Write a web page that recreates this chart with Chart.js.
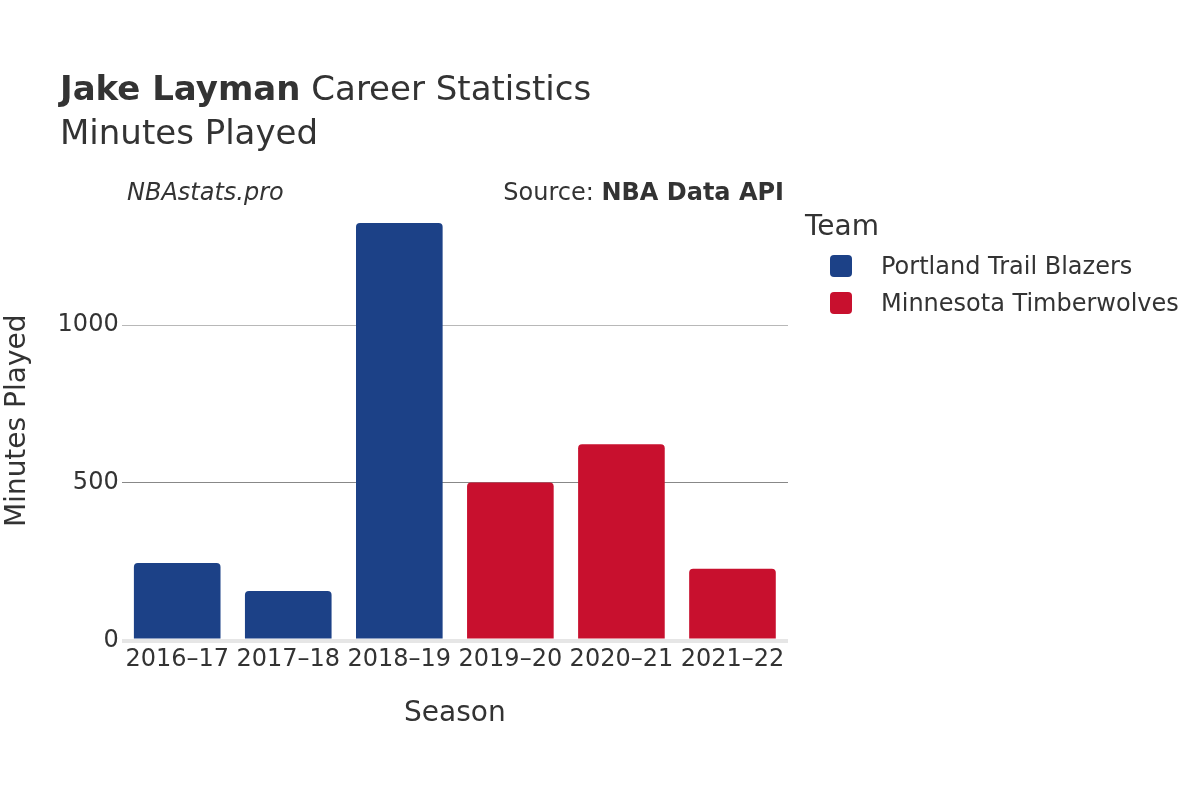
<!DOCTYPE html>
<html>
<head>
<meta charset="utf-8">
<script src="https://cdn.jsdelivr.net/npm/chart.js@4.4.0/dist/chart.umd.min.js"></script>
<style>
  html, body { margin: 0; padding: 0; background: #fff; }
  #wrap { position: relative; width: 1200px; height: 800px; font-family: "DejaVu Sans", sans-serif; color: #333; }
  #wrap canvas { position: absolute; left: 0; top: 0; }
  .txt { position: absolute; white-space: nowrap; }
  .sw { position: absolute; width: 22px; height: 22px; border-radius: 4px; }
</style>
</head>
<body>
<div id="wrap">
  <canvas id="chart" width="1200" height="800"></canvas>
  <div class="txt" style="left:60px; top:67px; font-size:34px; line-height:42px;"><b>Jake Layman</b> Career Statistics</div>
  <div class="txt" style="left:60px; top:111px; font-size:34px; line-height:42px;">Minutes Played</div>
  <div class="txt" style="left:127px; top:176px; font-size:24px; line-height:32px; font-style:italic;">NBAstats.pro</div>
  <div class="txt" style="right:416px; top:176px; font-size:24px; line-height:32px;">Source: <b>NBA Data API</b></div>
  <div class="txt" style="left:805px; top:208px; font-size:28px; line-height:36px;">Team</div>
  <div id="legend"></div>
</div>
<script>
// data
const seasons = ['2016\u201317', '2017\u201318', '2018\u201319', '2019\u201320', '2020\u201321', '2021\u201322'];
const teams = ['Portland Trail Blazers', 'Minnesota Timberwolves'];
const teamColors = ['#1c4187', '#c8102e'];
const portlandMinutes = [246, 157, 1324, null, null, null];
const minnesotaMinutes = [null, null, null, 501, 623, 228];
const yTicks = [0, 500, 1000];

document.addEventListener('DOMContentLoaded', () => {
    const ctx = document.getElementById('chart').getContext('2d');
    const series = [portlandMinutes, minnesotaMinutes];

    // legend (html)
    const legend = document.getElementById('legend');
    teams.forEach((t, i) => {
        const y = 255 + i * 37;
        legend.insertAdjacentHTML('beforeend',
            `<div class="sw" style="left:830px; top:${y}px; background:${teamColors[i]}"></div>` +
            `<div class="txt" style="left:881px; top:${y - 5}px; font-size:24px; line-height:32px;">${t}</div>`);
    });

    new Chart(ctx, {
        type: 'bar',
        data: {
            labels: seasons,
            datasets: teams.map((t, i) => ({
                label: t,
                data: series[i],
                backgroundColor: teamColors[i],
                borderRadius: { topLeft: 4, topRight: 4, bottomLeft: 0, bottomRight: 0 },
                borderSkipped: 'bottom',
                categoryPercentage: 0.78,
                barPercentage: 1
            }))
        },
        options: {
            responsive: false,
            animation: false,
            layout: { padding: { left: 0, right: 412, top: 201, bottom: 69 } },
            plugins: { legend: { display: false }, tooltip: { enabled: false } },
            scales: {
                x: {
                    stacked: true,
                    grid: { display: false },
                    border: { display: false },
                    ticks: { color: '#333', font: { family: 'DejaVu Sans', size: 24 }, padding: -3, maxRotation: 0 },
                    title: { display: true, text: 'Season', color: '#333', font: { family: 'DejaVu Sans', size: 28 }, padding: { top: 26, bottom: 0 } }
                },
                y: {
                    stacked: true,
                    min: 0,
                    max: 1394,
                    afterBuildTicks: (scale) => { scale.ticks = yTicks.map(v => ({ value: v })); },
                    grid: {
                        drawTicks: false,
                        color: (c) => c.tick && c.tick.value === 0 ? '#e6e6e6' : (c.tick && c.tick.value === 1000 ? '#b8b8b8' : '#888'),
                        lineWidth: (c) => c.tick && c.tick.value === 0 ? 4 : 1
                    },
                    border: { display: false },
                    ticks: { color: '#333', font: { family: 'DejaVu Sans', size: 24 }, padding: 3, callback: (v) => String(v) },
                    title: { display: true, text: 'Minutes Played', color: '#333', font: { family: 'DejaVu Sans', size: 28 }, padding: { top: 1, bottom: 20 } }
                }
            }
        }
    });
});
</script>
</body>
</html>
